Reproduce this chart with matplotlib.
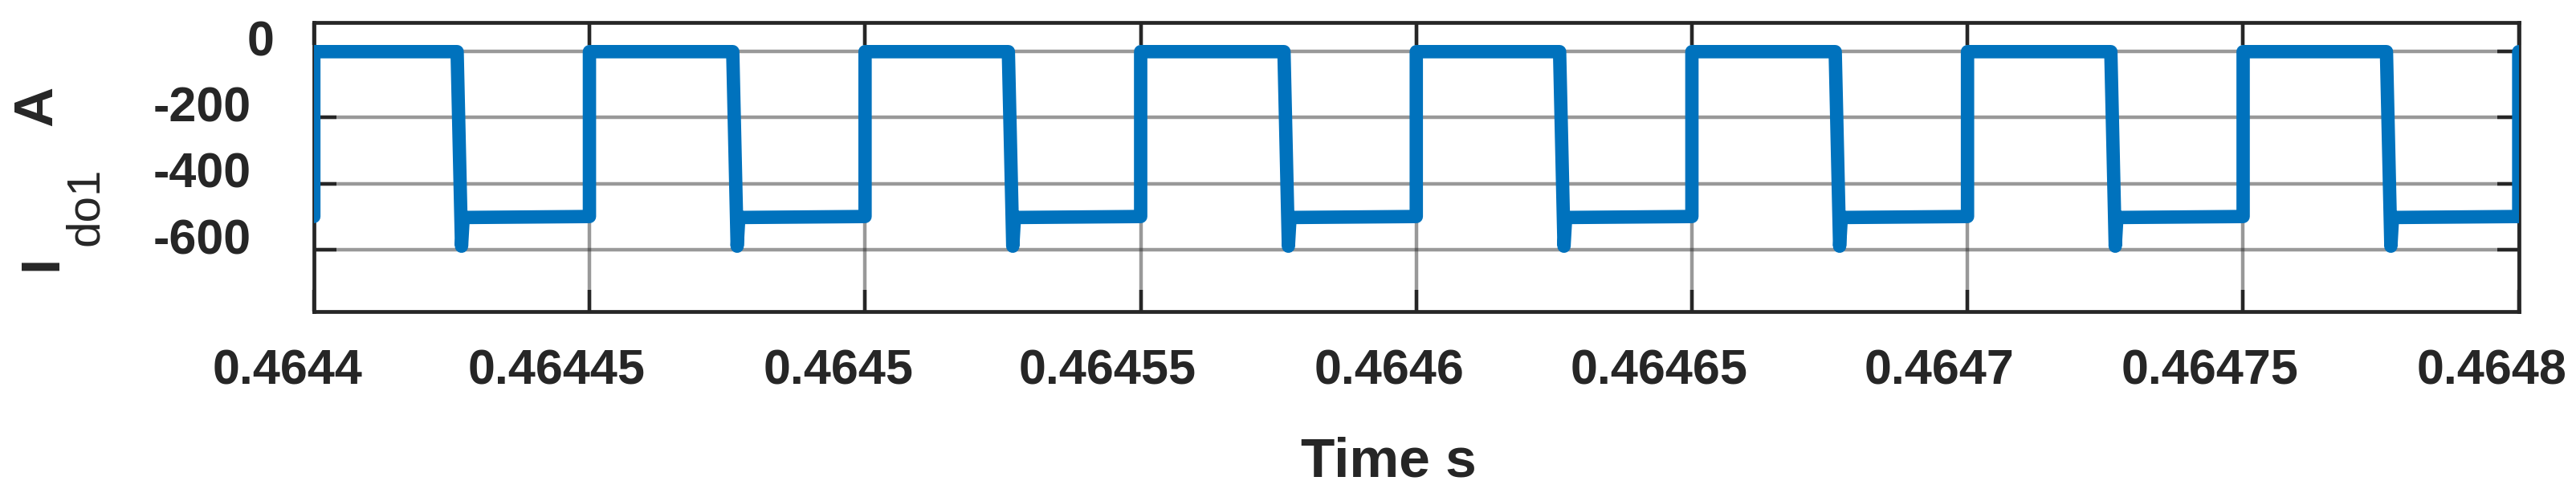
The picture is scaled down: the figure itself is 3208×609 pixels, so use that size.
import matplotlib
matplotlib.use("Agg")
import matplotlib.pyplot as plt
import matplotlib.transforms as mtransforms
import numpy as np

# ---------------- data ----------------
t0_s = 0.4644
# time after 0.4644 s, in microseconds
t_us = [0.0, 0.0, 26.0, 26.8, 27.1,
        50.0, 50.0, 76.0, 76.8, 77.1,
        100.0, 100.0, 126.0, 126.8, 127.1,
        150.0, 150.0, 176.0, 176.8, 177.1,
        200.0, 200.0, 226.0, 226.8, 227.1,
        250.0, 250.0, 276.0, 276.8, 277.1,
        300.0, 300.0, 326.0, 326.8, 327.1,
        350.0, 350.0, 376.0, 376.8, 377.1,
        400.0, 400.0]
i_do1 = [-500, 0, 0, -590, -503,
         -500, 0, 0, -590, -503,
         -500, 0, 0, -590, -503,
         -500, 0, 0, -590, -503,
         -500, 0, 0, -590, -503,
         -500, 0, 0, -590, -503,
         -500, 0, 0, -590, -503,
         -500, 0, 0, -590, -503,
         -500, 0]

x_ticks = [0.4644, 0.46445, 0.4645, 0.46455, 0.4646, 0.46465, 0.4647, 0.46475, 0.4648]
x_ticklabels = ["0.4644", "0.46445", "0.4645", "0.46455", "0.4646",
                "0.46465", "0.4647", "0.46475", "0.4648"]
y_ticks = [0, -200, -400, -600]
y_ticklabels = ["0", "-200", "-400", "-600"]

# ---------------- style ----------------
W, H, DPI = 3208, 609, 100
TXT = "#262626"
BLUE = "#0072BD"
FONT = "Liberation Sans"

fig = plt.figure(figsize=(W / DPI, H / DPI), dpi=DPI)
fig.patch.set_facecolor("white")

def fx(px):
    return px / W

def fy(py):
    return 1 - py / H

left, right, top, bottom = 390.8, 3136.7, 28.2, 387.5
ax = fig.add_axes([fx(left), fy(bottom), fx(right) - fx(left), (bottom - top) / H])

t = t0_s + np.asarray(t_us) * 1e-6
ax.plot(t, i_do1, color=BLUE, lw=12, solid_joinstyle="round",
        solid_capstyle="round", zorder=3)

ax.set_xlim(0.4644, 0.4648)
ax.set_ylim(-787, 88)
ax.set_xticks(x_ticks)
ax.set_yticks(y_ticks)
ax.tick_params(direction="in", length=19.8, width=3.2, color=TXT,
               top=True, right=True, labelleft=False, labelbottom=False)
ax.grid(True, color=TXT, alpha=0.47, lw=3.2)
for s in ax.spines.values():
    s.set_linewidth(3.4)
    s.set_color(TXT)

# x tick labels (slightly shifted left as in the reference)
x_label_dx = [-33, -41, -33, -41, -34, -41, -35, -41, -34]
xtrans = mtransforms.blended_transform_factory(ax.transData, fig.transFigure)
for xv, lab, dx in zip(x_ticks, x_ticklabels, x_label_dx):
    tr = mtransforms.offset_copy(xtrans, fig=fig, x=dx, y=0, units="dots")
    ax.text(xv, fy(478.3), lab, transform=tr, ha="center", va="baseline",
            fontsize=44, fontweight="bold", color=TXT, family=FONT, clip_on=False)

# y tick labels (baseline a little below each grid line, as in the reference)
y_label_right = [341.5, 312.5, 312.5, 312.5]
ytrans = mtransforms.blended_transform_factory(fig.transFigure, ax.transData)
ytr = mtransforms.offset_copy(ytrans, fig=fig, x=0, y=-5.4, units="dots")
for yv, lab, xr in zip(y_ticks, y_ticklabels, y_label_right):
    ax.text(fx(xr), yv, lab, transform=ytr, ha="right", va="baseline",
            fontsize=44, fontweight="bold", color=TXT, family=FONT, clip_on=False)

# x label
fig.text(fx(1729.3), fy(593), "Time s", ha="center", va="baseline",
         fontsize=50, fontweight="bold", color=TXT, family=FONT)

# y label: I_do1 A (rotated)
fig.text(fx(70), fy(337.2), "I", rotation=90, rotation_mode="anchor",
         ha="left", va="baseline", fontsize=50, fontweight="bold",
         color=TXT, family=FONT)
fig.text(fx(121.7), fy(306), "do1", rotation=90, rotation_mode="anchor",
         ha="left", va="baseline", fontsize=42, fontweight="normal",
         color=TXT, family=FONT)
fig.text(fx(64), fy(157.3), "A", rotation=90, rotation_mode="anchor",
         ha="left", va="baseline", fontsize=50, fontweight="bold",
         color=TXT, family=FONT)

fig.savefig("out.png", dpi=DPI, facecolor="white")
